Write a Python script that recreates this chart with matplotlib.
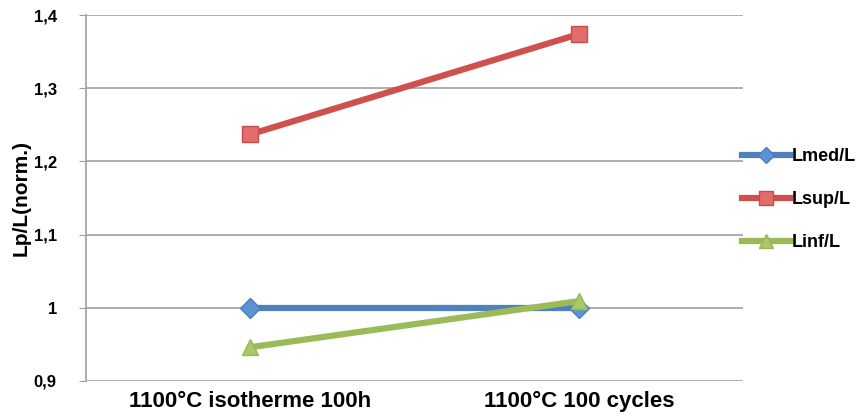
import matplotlib.pyplot as plt
import numpy as np

categories = ['1100°C isotherme 100h', '1100°C 100 cycles']
lmed = [1.0, 1.0]
lsup = [1.237, 1.374]
linf = [0.946, 1.009]

plt.rcParams['font.family'] = ['Liberation Sans', 'DejaVu Sans']
plt.rcParams['font.weight'] = 'bold'

fig = plt.figure(figsize=(8.6, 4.19), dpi=100)
ax = fig.add_axes([0.1, 0.091, 0.764, 0.873])

x = np.arange(len(categories))
ax.plot(x, lmed, color='#4F81BD', lw=4.5, marker='D', ms=10,
        mfc='#5B93D3', mec='#4A7EBB', label='Lmed/L', zorder=3)
ax.plot(x, lsup, color='#D0504D', lw=4.5, marker='s', ms=12,
        mfc='#E46C6A', mec='#C0504D', label='Lsup/L', zorder=3)
ax.plot(x, linf, color='#9BBB59', lw=4.5, marker='^', ms=12,
        mfc='#A9C86A', mec='#98B954', label='Linf/L', zorder=4)

ax.set_xlim(-0.5, 1.5)
ax.set_ylim(0.9, 1.4)
ax.set_yticks([0.9, 1.0, 1.1, 1.2, 1.3, 1.4])
ax.set_yticklabels(['0,9', '1', '1,1', '1,2', '1,3', '1,4'], fontsize=12, fontweight='bold')
ax.set_xticks(x)
ax.set_xticklabels(categories, fontsize=16, fontweight='bold')
ax.tick_params(axis='x', length=0, pad=7)
ax.tick_params(axis='y', length=5, color='#A0A0A0', pad=16)
ax.yaxis.grid(True, color='#A0A0A0', lw=1.2)
ax.set_axisbelow(True)
for s in ['top', 'right', 'bottom']:
    ax.spines[s].set_visible(False)
ax.spines['left'].set_color('#A0A0A0')
ax.spines['left'].set_linewidth(1.2)
ax.set_ylabel('Lp/L(norm.)', fontsize=15, fontweight='bold', labelpad=2)

ax.legend(loc='center left', bbox_to_anchor=(0.998, 0.495), frameon=False,
          borderaxespad=0, borderpad=0,
          handlelength=2.65, fontsize=13, labelspacing=1.45, handletextpad=0.1,
          markerscale=0.85)

plt.savefig('out.png', dpi=100)
